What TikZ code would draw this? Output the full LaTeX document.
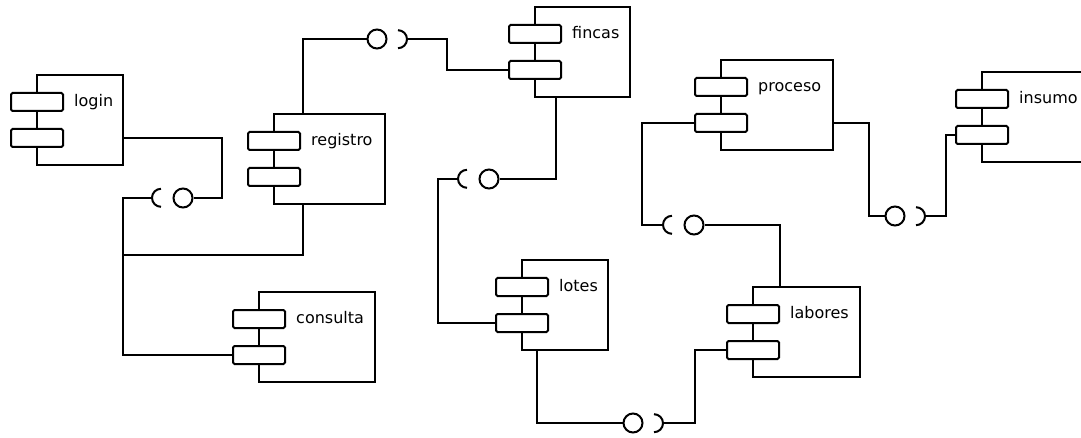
\documentclass[tikz,border=0pt]{standalone}
\usepackage{fontspec}
\setmainfont{DejaVu Sans}
\usetikzlibrary{calc}

\tikzset{
  wire/.style={line width=2pt, line join=miter},
  compbox/.style={draw, line width=2pt, rectangle, inner sep=0pt, minimum height=90pt, anchor=north west},
  port/.style={draw, line width=2pt, rectangle, rounded corners=1.5pt, fill=white, inner sep=0pt,
    minimum width=52pt, minimum height=18pt, anchor=north west},
  complabel/.style={anchor=mid west, inner sep=0pt, font=\fontsize{16}{19}\selectfont},
  ball/.style={draw, line width=2pt, circle, inner sep=0pt, minimum size=19pt, fill=white},
  sock/.style={circle, inner sep=0pt, minimum size=18pt},
}

% component: name, left, top, width, label
\newcommand{\umlcomp}[5]{%
  \node[compbox, minimum width=#4] (#1) at (#2,#3) {};
  \node[port] (#1-p1) at ($(#1.north west)+(-26,18)$) {};
  \node[port] (#1-p2) at ($(#1.north west)+(-26,54)$) {};
  \node[complabel] (#1-l) at ($(#1-p1.east)+(10,2)$) {#5};
}
% required interface opening to the right "(" and to the left ")"
\newcommand{\sockopenright}[1]{\draw[wire] (#1.north) arc[start angle=90, end angle=270, radius=9pt];}
\newcommand{\sockopenleft}[1]{\draw[wire] (#1.south) arc[start angle=-90, end angle=90, radius=9pt];}

\begin{document}
\begin{tikzpicture}[x=1pt, y=-1pt]
\useasboundingbox (0,0) rectangle (1081,438);
\clip (0,0) rectangle (1081,438);
\fill[white] (0,0) rectangle (1081,438);

% components
\umlcomp{login}{36}{74}{86}{login}
\umlcomp{registro}{273}{113}{111}{registro}
\umlcomp{fincas}{534}{6}{95}{fincas}
\umlcomp{lotes}{521}{259}{86}{lotes}
\umlcomp{labores}{752}{286}{107}{labores}
\umlcomp{proceso}{720}{59}{112}{proceso}
\umlcomp{insumo}{981}{71}{140}{insumo}
\umlcomp{consulta}{258}{291}{116}{consulta}

% provided / required interfaces
\node[ball] (b1) at (183,198) {};  \node[sock] (s1) at (161,198) {}; \sockopenright{s1}
\node[ball] (b2) at (377,39) {};   \node[sock] (s2) at (398,39) {};  \sockopenleft{s2}
\node[ball] (b3) at (489,179) {};  \node[sock] (s3) at (467,179) {}; \sockopenright{s3}
\node[ball] (b4) at (633,423) {};  \node[sock] (s4) at (654,423) {}; \sockopenleft{s4}
\node[ball] (b5) at (694,225) {};  \node[sock] (s5) at (672,225) {}; \sockopenright{s5}
\node[ball] (b6) at (895,216) {};  \node[sock] (s6) at (916,216) {}; \sockopenleft{s6}

% login -> registro / consulta
\draw[wire] (login.east |- login-p2) -- ++(98,0) |- (b1.east);
\draw[wire] (s1.west) -- ++(-29,0) coordinate (j1) |- (consulta-p2.west);
\draw[wire] ([xshift=30pt]registro.south west) -- ++(0,50) -| (j1);

% registro -> fincas
\draw[wire] ([xshift=30pt]registro.north west) |- (b2.west);
\draw[wire] (s2.east) -- ++(40,0) |- (fincas-p2.west);

% fincas -> lotes
\draw[wire] ([xshift=22pt]fincas.south west) |- (b3.east);
\draw[wire] (s3.west) -- ++(-20,0) |- (lotes-p2.west);

% lotes -> labores
\draw[wire] ([xshift=16pt]lotes.south west) |- (b4.west);
\draw[wire] (s4.east) -- ++(32,0) |- (labores-p2.west);

% labores -> proceso
\draw[wire] ([xshift=28pt]labores.north west) |- (b5.east);
\draw[wire] (s5.west) -- ++(-21,0) |- (proceso-p2.west);

% proceso -> insumo
\draw[wire] (proceso.east |- proceso-p2) -- ++(35,0) |- (b6.west);
\draw[wire] (s6.east) -- ++(21,0) |- (insumo-p2.west);
\end{tikzpicture}
\end{document}
